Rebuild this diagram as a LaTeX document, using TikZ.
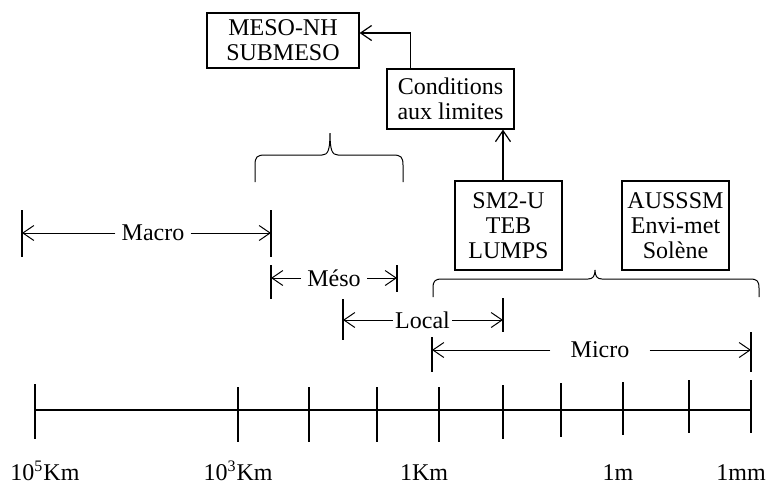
\documentclass[tikz,border=0pt]{standalone}
\usepackage{fontspec}
\setmainfont{Liberation Serif}
\usetikzlibrary{arrows.meta}

\tikzset{
  modelbox/.style={draw, line width=0.6pt, align=center, inner sep=0pt},
  scalelbl/.style={inner sep=0pt, anchor=base},
  spanlbl/.style={inner xsep=3pt, inner ysep=0pt},
  bar/.style={line width=0.6pt},
  span/.style={->, line width=0.5pt},
  curly/.style={line width=0.5pt},
}

\begin{document}
\begin{tikzpicture}[x=0.5pt, y=-0.5pt, font=\fontsize{12}{12.5}\selectfont, >={Straight Barb[length=5.5pt,width=7.5pt]}]
  \useasboundingbox (0,0) rectangle (772,484);

  % models
  \node[modelbox, minimum width=76pt, minimum height=27.5pt] (meso) at (283,40.5) {MESO-NH\\SUBMESO};
  \node[modelbox, minimum width=63.5pt, minimum height=30pt] (cond) at (450.5,99) {Conditions\\aux limites};
  \node[modelbox, minimum width=53.5pt, minimum height=44.5pt] (sm2) at (508.5,225.5) {SM2-U\\TEB\\LUMPS};
  \node[modelbox, minimum width=53.5pt, minimum height=44.5pt] (auss) at (675.5,225.5) {AUSSSM\\Envi-met\\Solène};

  \coordinate (sm2up) at ([xshift=-2.75pt]sm2.north);
  \draw[->, line width=0.6pt] (sm2up) -- (sm2up |- cond.south);
  \coordinate (condup) at ([xshift=12pt]cond.north west);
  \draw[->, line width=0.6pt] (condup) |- ([yshift=3.75pt]meso.east);

  % braces
  \draw[curly] (255,182) -- (255,165) .. controls (255,157) and (257,155) .. (265,155) -- (322,155)
    .. controls (328,155) and (330,150) .. (330,133) .. controls (330,150) and (332,155) .. (338,155)
    -- (393,155) .. controls (401,155) and (403,157) .. (403,165) -- (403,182);
  \draw[curly] (433,297) -- (433,288) .. controls (433,281) and (435,279) .. (442,279) -- (588,279)
    .. controls (593,279) and (595,276) .. (595,270) .. controls (595,276) and (597,279) .. (602,279)
    -- (750,279) .. controls (757,279) and (759,281) .. (759,288) -- (759,297);

  % Macro
  \draw[bar] (22,210) -- (22,257);
  \draw[bar] (271,210) -- (271,257);
  \coordinate (macroL) at (22,233);
  \coordinate (macroR) at (271,233);
  \node[spanlbl] (macro) at (153,233) {Macro};
  \draw[span] (macro.west) -- (macroL);
  \draw[span] (macro.east) -- (macroR);

  % Meso
  \draw[bar] (271,265) -- (271,299);
  \draw[bar] (397,265) -- (397,292);
  \coordinate (mesoL) at (271,278);
  \coordinate (mesoR) at (397,278);
  \node[spanlbl] (mesolbl) at (334,278) {Méso};
  \draw[span] (mesolbl.west) -- (mesoL);
  \draw[span] (mesolbl.east) -- (mesoR);

  % Local
  \draw[bar] (343,299) -- (343,340);
  \draw[bar] (503,298) -- (503,332);
  \coordinate (localL) at (343,320);
  \coordinate (localR) at (503,320);
  \node[spanlbl, inner xsep=1pt] (local) at (422.5,320) {Local};
  \draw[span] (local.west) -- (localL);
  \draw[span] (local.east) -- (localR);

  % Micro
  \draw[bar] (432,337) -- (432,372);
  \draw[bar] (751,332) -- (751,372);
  \coordinate (microL) at (432,350);
  \coordinate (microR) at (751,350);
  \node[spanlbl, inner xsep=10pt] (micro) at (600,350) {Micro};
  \draw[span] (micro.west) -- (microL);
  \draw[span] (micro.east) -- (microR);

  % scale axis
  \coordinate (axL) at (35,410);
  \coordinate (axR) at (751,410);
  \draw[line width=0.8pt] (axL) -- (axR);
  \foreach \x/\a/\b in {35/384/439, 238/387/442, 309/387/442, 377/387/442, 439/387/442,
                        503/385/439, 561/383/437, 623/382/435, 689/380/433, 751/380/433}
    \draw[bar] (\x,\a) -- (\x,\b);

  \node[scalelbl] (s1) at (45,480) {10\textsuperscript{5}Km};
  \node[scalelbl] (s2) at (238,480) {10\textsuperscript{3}Km};
  \node[scalelbl] (s3) at (424,480) {1Km};
  \node[scalelbl] (s4) at (618,480) {1m};
  \node[scalelbl] (s5) at (741,480) {1mm};
\end{tikzpicture}
\end{document}
